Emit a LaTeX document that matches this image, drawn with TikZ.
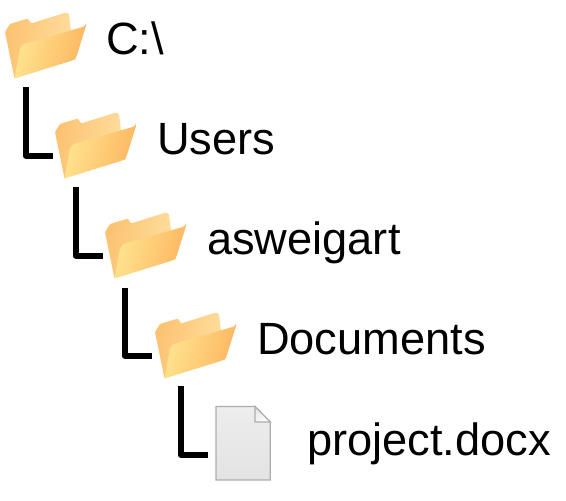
\documentclass[tikz,border=0pt]{standalone}
\usepackage{fontspec}
\setmainfont{Liberation Sans}
\usetikzlibrary{calc}
\definecolor{fa}{HTML}{FCC271}
\definecolor{fb}{HTML}{FFDE9E}
\definecolor{fc}{HTML}{FFE48F}
\definecolor{fd}{HTML}{FDB661}
\tikzset{
  x=1pt,y=-1pt,
  label text/.style={inner sep=0pt,anchor=base west,font=\fontsize{45.2}{50}\selectfont,text=black},
  elbow/.style={line width=6pt,line cap=rect,line join=round,draw=black},
  folder/.pic={
    \path[left color=fa,right color=fb,shading angle=80,rounded corners=1pt]
      (14.5,78.5) -- (5,32) -- (10,24) -- (28,18.5) -- (31,23.5) -- (66,12.5) -- (69,14) -- (72,40) -- cycle;
    \path[left color=fc,right color=fd,shading angle=75]
      (14.5,78.5) -- (20,49) [rounded corners=3pt] -- (22,44.5) -- (86,26)[sharp corners] -- (86,26) [rounded corners=3pt] -- (76,58) -- (74,60) [sharp corners] -- cycle;
  }
}
\begin{document}
\begin{tikzpicture}
\useasboundingbox (0,0) rectangle (566,501);
\path pic {folder} (50,100) pic {folder} (100,200) pic {folder} (150,300) pic {folder};
% document icon
\draw[draw=black!32,line width=1.2pt,top color=black!7,bottom color=black!11,line join=miter]
  (216,406.5) -- (255,406.5) -- (270.3,422) -- (270.3,480) -- (216,480) -- cycle;
\draw[draw=black!32,line width=1.2pt,left color=black!9,right color=white,shading angle=45]
  (255,406.5) -- (255,422) -- (270.3,422) -- cycle;
\node[label text] (n1) at (106,54) {C:\textbackslash};
\node[label text] (n2) at (157,154) {Users};
\node[label text] (n3) at (207,254) {asweigart};
\node[label text] (n4) at (257,354) {Documents};
\node[label text] (n5) at (307,455) {project.docx};
\coordinate (a1) at (25.5,90); \coordinate (b1) at (25.5,155.5); \coordinate (c1) at (50,155.5);
\coordinate (a2) at (75.5,190); \coordinate (b2) at (75.5,255.5); \coordinate (c2) at (100,255.5);
\coordinate (a3) at (124.5,291); \coordinate (b3) at (124.5,355.5); \coordinate (c3) at (149,355.5);
\coordinate (a4) at (181,389); \coordinate (b4) at (181,455); \coordinate (c4) at (204.7,455);
\draw[elbow] (a1) -- (b1) -- (c1);
\draw[elbow] (a2) -- (b2) -- (c2);
\draw[elbow] (a3) -- (b3) -- (c3);
\draw[elbow] (a4) -- (b4) -- (c4);
\end{tikzpicture}
\end{document}
